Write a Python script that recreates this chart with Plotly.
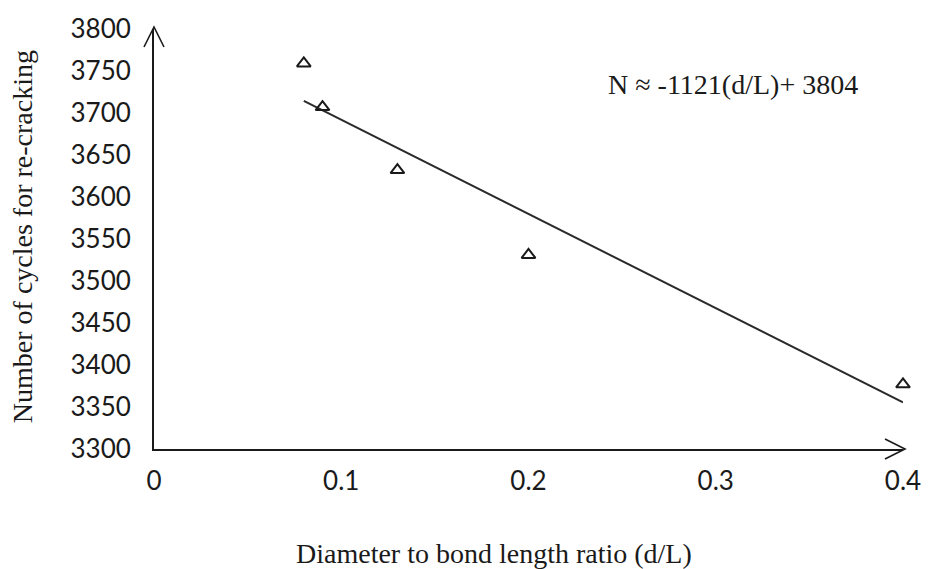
import plotly.graph_objects as go

# Measured ratios and cycles to re-cracking
dl_ratio = [0.08, 0.09, 0.13, 0.20, 0.40]
cycles = [3759, 3707, 3632, 3531, 3377]

# Linear fit N = SLOPE*(d/L) + INTERCEPT
SLOPE = -1121
INTERCEPT = 3804
fit_x = [min(dl_ratio), max(dl_ratio)]
fit_y = [SLOPE * v + INTERCEPT for v in fit_x]

x_ticks = [0, 0.1, 0.2, 0.3, 0.4]
x_tick_text = ["0", "0.1", "0.2", "0.3", "0.4"]
y_ticks = list(range(3300, 3801, 50))

SERIF = "Liberation Serif, Times New Roman, serif"
SANS = "Lato, Carlito, Calibri, sans-serif"
INK = "#1a1a1a"

fig = go.Figure()

fig.add_trace(go.Scatter(
    x=fit_x, y=fit_y, mode="lines",
    line=dict(color="#2a2a2a", width=2),
    showlegend=False, hoverinfo="skip",
))

fig.add_trace(go.Scatter(
    x=dl_ratio, y=cycles, mode="markers",
    marker=dict(symbol="triangle-up-open", size=12,
                color=INK, line=dict(color=INK, width=2)),
    cliponaxis=False, showlegend=False,
))

# Open arrowheads at the ends of both axes (paper refs so they are not clipped)
arrow_style = dict(type="path", line=dict(color=INK, width=1.6),
                   xsizemode="pixel", ysizemode="pixel",
                   xref="paper", yref="paper", layer="above")
fig.add_shape(**arrow_style, xanchor=1, yanchor=0,
              path="M-18,10 L2,0 L-18,-10")
fig.add_shape(**arrow_style, xanchor=0, yanchor=1,
              path="M-10,-18 L0,2 L10,-18")

fig.add_annotation(
    x=0.309, y=3734, xref="x", yref="y",
    xanchor="center", yanchor="middle",
    text="N ≈ -1121(d/L)+ 3804", showarrow=False,
    font=dict(family=SERIF, size=28, color=INK),
)
fig.add_annotation(
    x=0.4537, y=-0.249, xref="paper", yref="paper",
    xanchor="center", yanchor="middle",
    text="Diameter to bond length ratio (d/L)", showarrow=False,
    font=dict(family=SERIF, size=28, color=INK),
)
fig.add_annotation(
    x=-0.1745, y=0.505, xref="paper", yref="paper",
    xanchor="center", yanchor="middle",
    text="Number of cycles for re-cracking", showarrow=False,
    textangle=-90,
    font=dict(family=SERIF, size=28, color=INK),
)

fig.update_xaxes(
    range=[0, 0.4], tickvals=x_ticks, ticktext=x_tick_text,
    showgrid=False, zeroline=False, showline=True,
    linecolor=INK, linewidth=2, ticks="", ticklabelstandoff=8,
    tickfont=dict(family=SANS, size=26, color=INK),
)
fig.update_yaxes(
    range=[3300, 3800], tickvals=y_ticks,
    showgrid=False, zeroline=False, showline=True,
    linecolor=INK, linewidth=2, ticks="", ticklabelstandoff=16,
    tickfont=dict(family=SANS, size=26, color=INK),
)

fig.update_layout(
    width=933, height=569,
    margin=dict(l=154, r=23, t=23, b=120),
    paper_bgcolor="white", plot_bgcolor="white",
)

fig.write_html("out.html")
